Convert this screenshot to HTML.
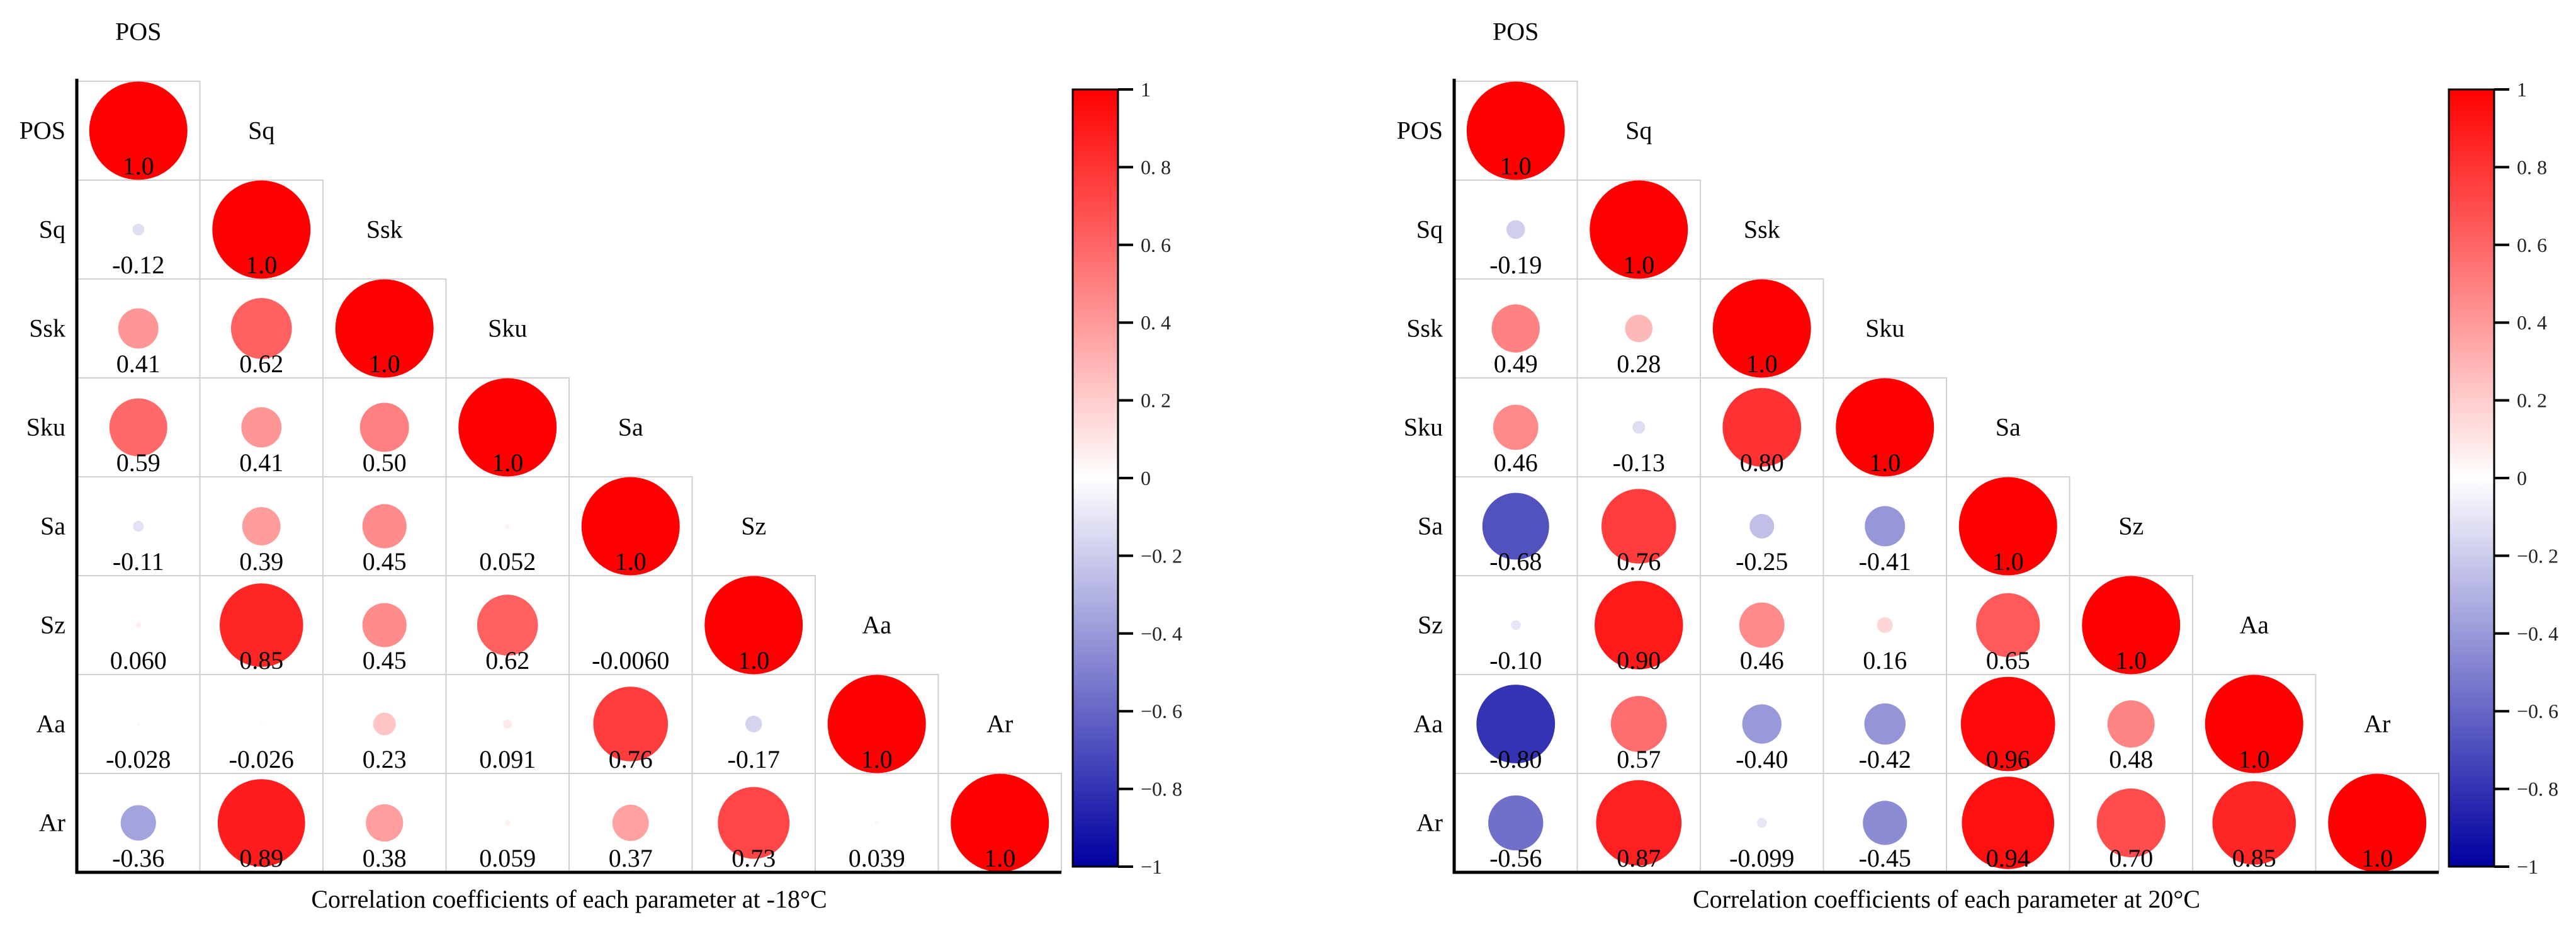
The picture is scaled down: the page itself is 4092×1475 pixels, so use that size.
<!DOCTYPE html>
<html><head><meta charset="utf-8"><style>
html,body{margin:0;padding:0;background:#fff;}
svg{display:block;font-family:"Liberation Serif",serif;}
</style></head><body>
<svg id="chart" width="4092" height="1475" viewBox="0 0 4092 1475" xmlns="http://www.w3.org/2000/svg">
<defs>
<linearGradient id="cb" x1="0" y1="0" x2="0" y2="1">
<stop offset="0" stop-color="#ff0000"/><stop offset="0.5" stop-color="#ffffff"/><stop offset="1" stop-color="#0000a0"/>
</linearGradient>
</defs>
</svg>
<script>
const labels = ["POS","Sq","Ssk","Sku","Sa","Sz","Aa","Ar"];
const valuesCold = [
 [],
 [-0.12],
 [0.41,0.62],
 [0.59,0.41,0.50],
 [-0.11,0.39,0.45,0.052],
 [0.060,0.85,0.45,0.62,-0.0060],
 [-0.028,-0.026,0.23,0.091,0.76,-0.17],
 [-0.36,0.89,0.38,0.059,0.37,0.73,0.039]
];
const textCold = [
 [],
 ["-0.12"],
 ["0.41","0.62"],
 ["0.59","0.41","0.50"],
 ["-0.11","0.39","0.45","0.052"],
 ["0.060","0.85","0.45","0.62","-0.0060"],
 ["-0.028","-0.026","0.23","0.091","0.76","-0.17"],
 ["-0.36","0.89","0.38","0.059","0.37","0.73","0.039"]
];
const valuesWarm = [
 [],
 [-0.19],
 [0.49,0.28],
 [0.46,-0.13,0.80],
 [-0.68,0.76,-0.25,-0.41],
 [-0.10,0.90,0.46,0.16,0.65],
 [-0.80,0.57,-0.40,-0.42,0.96,0.48],
 [-0.56,0.87,-0.099,-0.45,0.94,0.70,0.85]
];
const textWarm = [
 [],
 ["-0.19"],
 ["0.49","0.28"],
 ["0.46","-0.13","0.80"],
 ["-0.68","0.76","-0.25","-0.41"],
 ["-0.10","0.90","0.46","0.16","0.65"],
 ["-0.80","0.57","-0.40","-0.42","0.96","0.48"],
 ["-0.56","0.87","-0.099","-0.45","0.94","0.70","0.85"]
];
const cbTicks = [1,0.8,0.6,0.4,0.2,0,-0.2,-0.4,-0.6,-0.8,-1];
const cbTickLabels = ["1","0. 8","0. 6","0. 4","0. 2","0","\u22120. 2","\u22120. 4","\u22120. 6","\u22120. 8","\u22121"];
const titles = ["Correlation coefficients of each parameter at -18\u00B0C","Correlation coefficients of each parameter at 20\u00B0C"];

const NS="http://www.w3.org/2000/svg";
const svg=document.getElementById('chart');
function mk(tag,attrs,parent){const e=document.createElementNS(NS,tag);for(const k in attrs)e.setAttribute(k,attrs[k]);(parent||svg).appendChild(e);return e;}
function color(r){
  const t=Math.min(1,Math.abs(r));
  if(r>=0){const g=Math.round(255*(1-t));return `rgb(255,${g},${g})`;}
  const rg=Math.round(255*(1-t)); const b=Math.round(255*(1-t)+160*t);
  return `rgb(${rg},${rg},${b})`;
}
const CW=195.5, CH=157, TOP=129, RMAX=78;

function panel(x0, vals, txt, title, cbx, idx){
  const g=mk('g',{});
  
  
  const n=labels.length;
  const cx=j=>x0+CW*(j+0.5), cy=i=>TOP+CH*(i+0.5);
  // cells
  for(let i=0;i<n;i++){
    for(let j=0;j<=i;j++){
      const c=mk('rect',{x:x0+CW*j,y:TOP+CH*i,width:CW,height:CH,fill:'none',stroke:'#d0d0d0','stroke-width':2},g);
      
      
    }
  }
  for(let i=0;i<n;i++){
    // row label
    const rl=mk('text',{x:x0-18,y:cy(i)+13,'text-anchor':'end','font-size':40},g);
    rl.textContent=labels[i];
    
    
    // diagonal label above
    const dl=mk('text',{x:cx(i),y:cy(i-1)+13,'text-anchor':'middle','font-size':40},g);
    dl.textContent=labels[i];
    
    
    for(let j=0;j<=i;j++){
      const r = j===i?1:vals[i][j];
      const s = j===i?"1.0":txt[i][j];
      const circ=mk('circle',{cx:cx(j),cy:cy(i),r:Math.max(0.5,RMAX*Math.abs(r)),fill:color(r)},g);
      
      
      const t=mk('text',{x:cx(j),y:TOP+CH*(i+1)-9,'text-anchor':'middle','font-size':40},g);
      t.textContent=s;
      
      
    }
  }
  // axes
  const ax=mk('path',{d:`M${x0} ${TOP-4} V${TOP+CH*n} H${x0+CW*n}`,fill:'none',stroke:'#000','stroke-width':5},g);
  
  
  const tt=mk('text',{x:x0+CW*n/2,y:1441,'text-anchor':'middle','font-size':40},g);
  tt.textContent=title;
  
  
  // colorbar
  const yTop=142, yBot=1376, w=72;
  const ys=v=>yBot-(v+1)/2*(yBot-yTop);
  const cb=mk('rect',{x:cbx,y:yTop,width:w,height:yBot-yTop,fill:'url(#cb)',stroke:'#000','stroke-width':3},g);
  
  
  cbTicks.forEach((v,k)=>{
    const tk=mk('line',{x1:cbx+w,x2:cbx+w+24,y1:ys(v),y2:ys(v),stroke:'#000','stroke-width':4},g);
    
    
    const tl=mk('text',{x:cbx+w+36,y:ys(v)+11,'font-size':32,fill:'#222'},g);
    tl.textContent=cbTickLabels[k];
    
    
  });
}
panel(122, valuesCold, textCold, titles[0], 1704, 0);
panel(2310, valuesWarm, textWarm, titles[1], 3890, 1);
</script>
</body></html>
